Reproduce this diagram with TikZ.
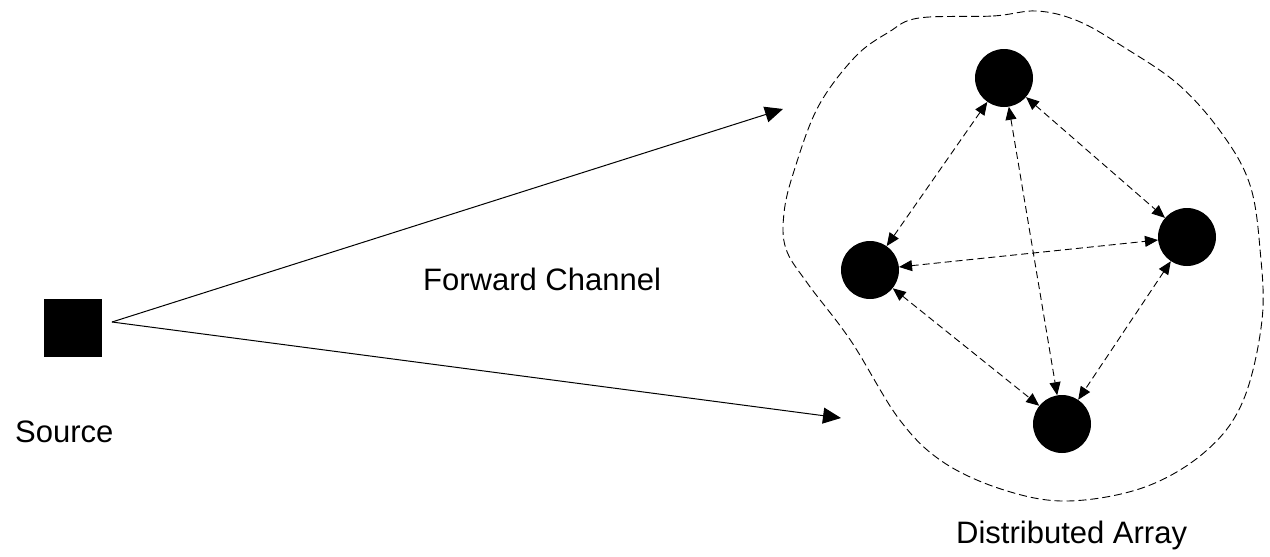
\documentclass[tikz,border=0pt]{standalone}
\usepackage{fontspec}
\setmainfont{Liberation Sans}
\usetikzlibrary{arrows.meta}
\begin{document}
\begin{tikzpicture}[x=1pt,y=-1pt,
  dot/.style={circle,fill=black,minimum size=58pt,inner sep=0pt},
  src/.style={rectangle,fill=black,minimum size=58pt,inner sep=0pt},
  lbl/.style={font=\fontsize{31}{36}\selectfont,inner sep=0pt,anchor=base west},
  feed/.style={line width=1pt,-{Triangle[length=18pt,width=16pt]}},
  link/.style={line width=0.9pt,dash pattern=on 7pt off 4pt,{Triangle[length=13pt,width=11pt]}-{Triangle[length=13pt,width=11pt]}},
  hull/.style={line width=0.9pt,dash pattern=on 8pt off 4pt}]
\useasboundingbox (0,0) rectangle (1270,557);

% dashed boundary of the array
\draw[hull] plot[smooth cycle, tension=0.6] coordinates {
  (919,18) (993,16) (1037,11) (1078,21) (1122,46) (1179,85) (1223,135)
  (1250,185) (1260,249) (1262,320) (1243,401) (1206,451) (1145,487)
  (1068,501) (1004,490) (943,462) (899,419) (851,341) (808,284)
  (786,249) (784,213) (794,171) (818,107) (855,57) (889,32)};

% source
\node[src] (source) at (73,327.5) {};
\coordinate (tx) at (112,322);
\coordinate (endA) at (783,109);
\coordinate (endB) at (841,418);
\draw[feed] (tx) -- (endA);
\draw[feed] (tx) -- (endB);

% array elements
\node[dot] (top) at (1004,78) {};
\node[dot] (left) at (870,270) {};
\node[dot] (right) at (1187,237) {};
\node[dot] (bottom) at (1062,424) {};

\draw[link] (top) -- (left);
\draw[link] (top) -- (right);
\draw[link] (top) -- (bottom);
\draw[link] (left) -- (right);
\draw[link] (left) -- (bottom);
\draw[link] (right) -- (bottom);

% labels
\node[lbl] (srclbl) at (15,442) {Source};
\node[lbl] (fwdlbl) at (423,290) {Forward Channel};
\node[lbl] (arrlbl) at (956,543) {Distributed Array};
\end{tikzpicture}
\end{document}
